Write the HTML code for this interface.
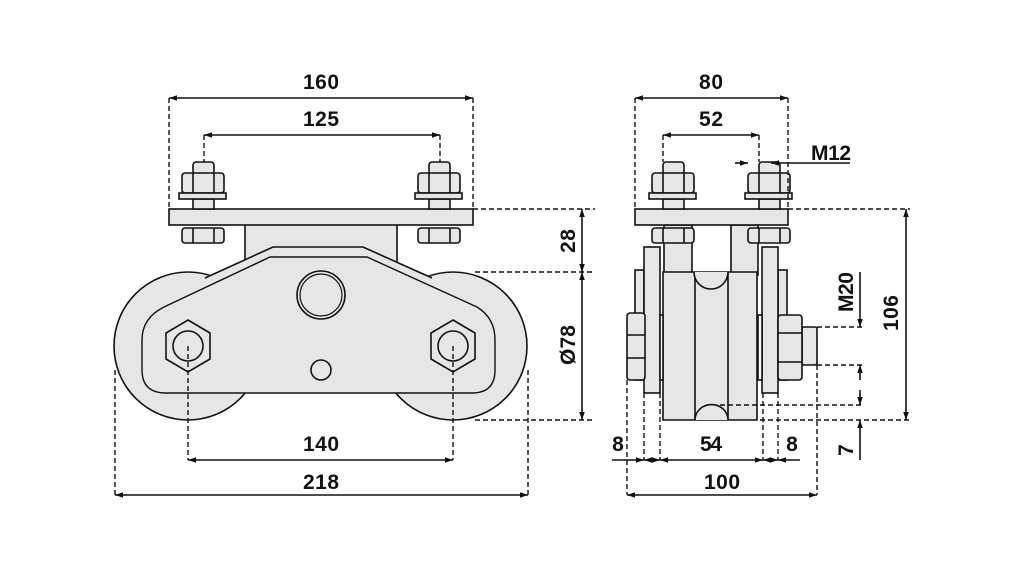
<!DOCTYPE html>
<html><head><meta charset="utf-8"><style>
html,body{margin:0;padding:0;background:#fff;}
svg{display:block}
text{font-family:"Liberation Sans",Arial,sans-serif;font-weight:bold;font-size:21px;fill:#111}
</style></head><body>
<svg width="1021" height="567" viewBox="0 0 1021 567" xmlns="http://www.w3.org/2000/svg">
<defs>
<marker id="a" viewBox="0 0 10 10" refX="10" refY="5" markerWidth="8" markerHeight="8" markerUnits="userSpaceOnUse" orient="auto-start-reverse"><path d="M0,1.5 L10,5 L0,8.5 Z" fill="#111"/></marker>
</defs>
<g stroke="#111" fill="#e6e6e6" stroke-width="1.6">
<!-- LEFT VIEW -->
<circle cx="188" cy="346" r="74"/>
<circle cx="453" cy="346" r="74"/>
<rect x="245" y="224" width="152" height="40"/>
<path d="M273,247 L363,247 L470,294 Q502,310 502,340 L502,365 Q502,393 470,393 L170,393 Q134,393 134,365 L134,340 Q134,310 166,294 Z" stroke="none"/>
<path d="M205,278 L273,247 L363,247 L432,278" fill="none"/>
<path d="M142,340 Q142,318 164,307 L270,257 L367,257 L477,307 Q495,318 495,340 L495,370 Q495,393 472,393 L166,393 Q142,393 142,370 Z" fill="none" stroke-width="1.4"/>
<circle cx="321" cy="295" r="24"/><circle cx="321" cy="295" r="21" fill="none" stroke-width="1.2"/>
<circle cx="321" cy="370" r="10"/>
<polygon points="188,320 210,333 210,359 188,372 166,359 166,333"/>
<circle cx="188" cy="346" r="15"/>
<polygon points="453,320 475,333 475,359 453,372 431,359 431,333"/>
<circle cx="453" cy="346" r="15"/>
<rect x="169" y="209" width="304" height="16"/>
<g id="bolt">
<rect x="193" y="162" width="21" height="12" rx="3"/>
<rect x="193" y="199" width="21" height="10"/>
<rect x="182" y="173" width="42" height="20" rx="3"/>
<path d="M193,173 V193 M214,173 V193" fill="none"/>
<rect x="179" y="193" width="47" height="6"/>
<rect x="182" y="228" width="42" height="15" rx="3"/>
<path d="M193,228 V243 M214,228 V243" fill="none"/>
</g>
<use href="#bolt" transform="translate(236,0)"/>
<!-- RIGHT VIEW -->
<rect x="635" y="270" width="9" height="110"/>
<rect x="778" y="270" width="9" height="110"/>
<rect x="644" y="247" width="16" height="146"/>
<rect x="762" y="247" width="16" height="146"/>
<rect x="664" y="225" width="28" height="50"/>
<rect x="731" y="225" width="27" height="50"/>
<path d="M663,272 H757 V420 H663 Z"/>
<path d="M695,272 V420 M728,272 V420" fill="none"/>
<path d="M694,272 A17,17 0 0 0 728,272" />
<path d="M695,420 A16,15 0 0 1 728,420"/>
<rect x="660" y="315" width="3" height="65" fill="#fff"/>
<rect x="758" y="315" width="4" height="65" fill="#fff"/>
<rect x="627" y="313" width="18" height="67" rx="3"/>
<path d="M627,335 H645 M627,358 H645" fill="none"/>
<rect x="802" y="327" width="15" height="38" rx="2"/>
<rect x="778" y="315" width="24" height="65" rx="3"/>
<path d="M778,333 H802 M778,362 H802" fill="none"/>
<rect x="635" y="209" width="153" height="16"/>
<use href="#bolt" transform="translate(470,0)"/>
<use href="#bolt" transform="translate(566,0)"/>
</g>
<!-- dashed lines -->
<g stroke="#111" stroke-width="1.4" stroke-dasharray="5,3" fill="none">
<path d="M169,98 V209 M473,98 V209 M204,135 V162 M440,135 V162"/>
<path d="M473,209 H595 M475,272 H595 M475,420 H595"/>
<path d="M188,346 V460 M453,346 V460 M115,370 V495 M528,370 V495"/>
<path d="M635,98 V209 M788,98 V209 M663,135 V162 M759,135 V162"/>
<path d="M788,209 H910 M760,420 H910 M720,405 H862 M817,327 H862 M817,365 H862"/>
<path d="M627,380 V495 M644,393 V460 M660,393 V460 M763,393 V460 M778,393 V460 M817,365 V495"/>
</g>
<!-- dimension lines -->
<g stroke="#111" stroke-width="1.6" fill="none">
<path d="M169,98 H473" marker-start="url(#a)" marker-end="url(#a)"/>
<path d="M204,135 H440" marker-start="url(#a)" marker-end="url(#a)"/>
<path d="M188,460 H453" marker-start="url(#a)" marker-end="url(#a)"/>
<path d="M115,495 H528" marker-start="url(#a)" marker-end="url(#a)"/>
<path d="M582,209 V272" marker-start="url(#a)" marker-end="url(#a)"/>
<path d="M582,272 V420" marker-start="url(#a)" marker-end="url(#a)"/>
<path d="M635,98 H788" marker-start="url(#a)" marker-end="url(#a)"/>
<path d="M663,135 H759" marker-start="url(#a)" marker-end="url(#a)"/>
<path d="M735,163 H748" marker-end="url(#a)"/>
<path d="M850,163 H771" marker-end="url(#a)"/>
<path d="M906,209 V420" marker-start="url(#a)" marker-end="url(#a)"/>
<path d="M860,272 V327" marker-end="url(#a)"/>
<path d="M860,380 V365" marker-end="url(#a)"/>
<path d="M860,390 V405" marker-end="url(#a)"/>
<path d="M860,460 V420" marker-end="url(#a)"/>
<path d="M612,460 H644" marker-end="url(#a)"/>
<path d="M644,460 H660" marker-start="url(#a)" marker-end="url(#a)"/>
<path d="M660,460 H763" marker-start="url(#a)" marker-end="url(#a)"/>
<path d="M763,460 H778" marker-start="url(#a)" marker-end="url(#a)"/>
<path d="M800,460 H778" marker-end="url(#a)"/>
<path d="M627,495 H817" marker-start="url(#a)" marker-end="url(#a)"/>
</g>
<g text-anchor="middle">
<text x="321" y="89" textLength="36">160</text>
<text x="321" y="126" textLength="36">125</text>
<text x="321" y="451" textLength="36">140</text>
<text x="321" y="489" textLength="36">218</text>
<text x="711" y="89" textLength="24">80</text>
<text x="711" y="126" textLength="24">52</text>
<text x="831" y="160" textLength="40">M12</text>
<text x="618" y="451">8</text>
<text x="711" y="451" font-weight="normal" textLength="22">54</text>
<text x="792" y="451">8</text>
<text x="722" y="489" textLength="36">100</text>
<text transform="translate(575,241) rotate(-90)" textLength="24">28</text>
<text transform="translate(575,345) rotate(-90)" textLength="40">Ø78</text>
<text transform="translate(898,313) rotate(-90)" textLength="36">106</text>
<text transform="translate(853,292) rotate(-90)" textLength="40">M20</text>
<text transform="translate(853,450) rotate(-90)">7</text>
</g>
</svg>
</body></html>
